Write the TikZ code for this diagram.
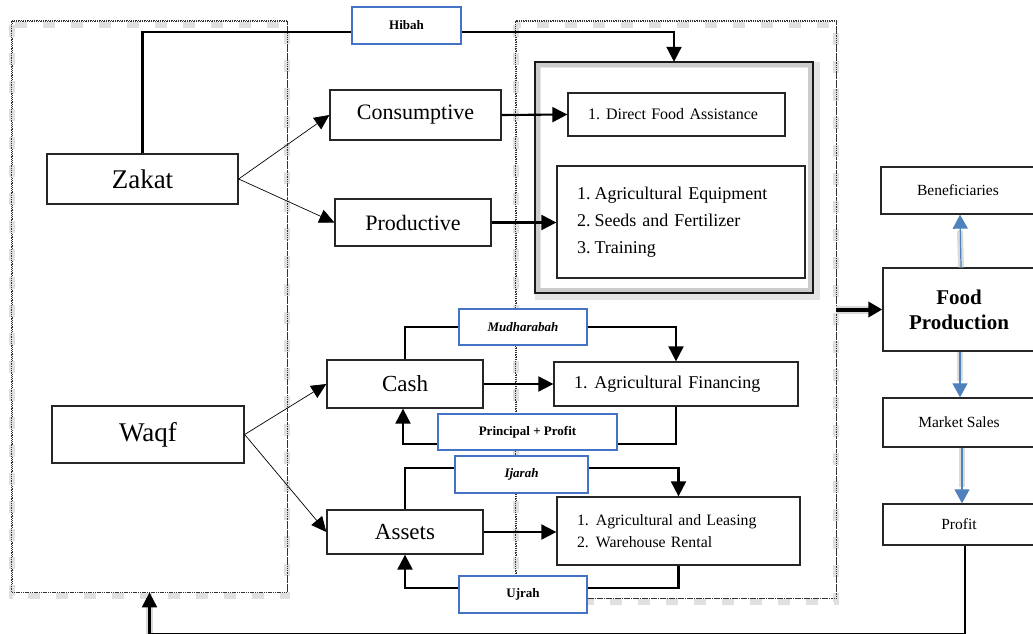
\documentclass[tikz,border=0pt]{standalone}
\usepackage{fontspec}
\setmainfont{Liberation Serif}
\usetikzlibrary{arrows.meta,calc}
\definecolor{wordblue}{RGB}{68,114,196}
\definecolor{arrowblue}{RGB}{79,129,189}
\begin{document}
\begin{tikzpicture}[x=1pt,y=-1pt,
  box/.style={draw=black!85, line width=1.3pt, fill=white, inner sep=0pt, align=center},
  listbox/.style={draw=black!85, line width=1.3pt, fill=white, inner xsep=20pt, inner ysep=0pt, align=left},
  tag/.style={draw=wordblue, line width=1.2pt, fill=white, inner sep=0pt, font=\fontsize{13}{15}\selectfont\bfseries},
  conn/.style={line width=2.1pt, -{Triangle[length=15pt,width=15pt]}},
  plainline/.style={line width=2.1pt},
  thinarr/.style={line width=0.7pt, -{Triangle[length=15pt,width=14pt]}},
  frame/.style={draw=black!80, densely dotted, line width=0.8pt, inner sep=0pt},
  glow/.style={draw=black!12, line width=6pt, dash pattern=on 12pt off 16pt},
  bluearr/.style={arrowblue, line width=1.2pt, -{Triangle[length=14pt,width=15pt]}},
  blueglow/.style={black!14, line width=6pt},
]
\useasboundingbox (0,0) rectangle (1033,634);
\clip (0,0) rectangle (1033,634);

% frames
\node[frame, minimum width=275pt, minimum height=571pt] (leftframe) at (149.5,306.5) {};
\node[frame, minimum width=320pt, minimum height=577pt] (rightframe) at (676,309.5) {};
\draw[glow] ([yshift=-4pt]leftframe.north west) rectangle ([yshift=-4pt]leftframe.south east);
\draw[glow] ([yshift=-4pt]rightframe.north west) rectangle ([yshift=-4pt]rightframe.south east);
\draw[frame] (leftframe.north west) rectangle (leftframe.south east);
\draw[frame] (rightframe.north west) rectangle (rightframe.south east);

% big framed box
\node[minimum width=278pt, minimum height=231pt, inner sep=0pt] (bigbox) at (674,177.5) {};
\draw[black!10, line width=6pt] ([shift={(3pt,-3pt)}]bigbox.north west) rectangle ([shift={(4pt,-4pt)}]bigbox.south east);
\draw[black!20, line width=4pt] ([shift={(3pt,-3pt)}]bigbox.north west) rectangle ([shift={(-3pt,3pt)}]bigbox.south east);
\draw[black!90, line width=1.5pt] (bigbox.north west) rectangle (bigbox.south east);

% left nodes
\node[box, minimum width=191pt, minimum height=50pt, font=\fontsize{27}{32}\selectfont] (zakat) at (142.5,179) {Zakat};
\node[box, minimum width=192pt, minimum height=57pt, font=\fontsize{27}{32}\selectfont] (waqf) at (148,434.5) {Waqf};

% middle nodes
\node[box, minimum width=171pt, minimum height=50pt, font=\fontsize{22}{26}\selectfont] (cons) at (415.5,115) {Consumptive};
\node[box, minimum width=156pt, minimum height=47pt, font=\fontsize{22}{26}\selectfont] (prod) at (413,222.5) {Productive};
\node[box, minimum width=156pt, minimum height=48pt, font=\fontsize{23}{27}\selectfont] (cash) at (405,384) {Cash};
\node[box, minimum width=156pt, minimum height=44pt, font=\fontsize{23}{27}\selectfont] (assets) at (405,532) {Assets};

% tags
\node[tag, minimum width=109pt, minimum height=37pt] (hibah) at (406.5,25.5) {Hibah};
\node[tag, minimum width=128pt, minimum height=36pt] (mudh) at (523,327) {\itshape Mudharabah};
\node[tag, minimum width=179pt, minimum height=36pt] (pp) at (527.5,432) {Principal + Profit};
\node[tag, minimum width=133pt, minimum height=37pt] (ijarah) at (521.5,474.5) {\itshape Ijarah};
\node[tag, minimum width=128pt, minimum height=37pt] (ujrah) at (523,594.5) {Ujrah};

% right-side list boxes
\node[listbox, text width=177pt, minimum height=43pt, font=\fontsize{16}{20}\selectfont] (dfa) at (676.5,114.5) {1.\hspace{6pt}Direct Food Assistance};
\node[listbox, text width=208pt, minimum height=112pt, font=\fontsize{18}{27}\selectfont] (plist) at (681,222) {1.\hspace{4pt}Agricultural Equipment\\2.\hspace{4pt}Seeds and Fertilizer\\3.\hspace{4pt}Training\\[-8pt]};
\node[listbox, text width=204pt, minimum height=44pt, font=\fontsize{18}{22}\selectfont] (af) at (676,384) {1.\hspace{7pt}Agricultural Financing};
\node[listbox, text width=203pt, minimum height=68pt, font=\fontsize{15.8}{22}\selectfont] (leasing) at (678.5,531) {1.\hspace{7pt}Agricultural and Leasing\\2.\hspace{7pt}Warehouse Rental};

% outcome column
\node[box, minimum width=154pt, minimum height=47pt, font=\fontsize{15.5}{18}\selectfont] (benef) at (958,190.5) {Beneficiaries};
\node[box, minimum width=152pt, minimum height=83pt, font=\fontsize{21}{25}\selectfont\bfseries] (food) at (959,309.5) {Food\\Production};
\node[box, minimum width=152pt, minimum height=49pt, font=\fontsize{15.5}{18}\selectfont] (market) at (959,422.5) {Market Sales};
\node[box, minimum width=152pt, minimum height=41pt, font=\fontsize{15.5}{18}\selectfont] (profit) at (959,524.5) {Profit};

% zakat flows
\draw[thinarr] (zakat.east) -- (cons.west);
\draw[thinarr] (zakat.east) -- (prod.west);
\draw[plainline] (zakat.north) |- ([yshift=-6.5pt]hibah.west);
\draw[conn] ([yshift=-6.5pt]hibah.east) -| (bigbox.north);
\draw[conn] (cons.east) -- (dfa.west);
\draw[conn] (prod.east) -- (prod.east -| plist.west);

% waqf flows
\draw[thinarr] (waqf.east) -- (cash.west);
\draw[thinarr] (waqf.east) -- (assets.west);
\draw[plainline] (cash.north) |- (mudh.west);
\draw[conn] (mudh.east) -| (af.north);
\draw[conn] (cash.east) -- (af.west);
\draw[plainline] (af.south) |- ([yshift=-12pt]pp.east);
\draw[conn] ([yshift=-12pt]pp.west) -| ([xshift=-2pt]cash.south);
\draw[plainline] (assets.north) |- ([yshift=6.5pt]ijarah.west);
\draw[conn] ([yshift=6.5pt]ijarah.east) -| (leasing.north);
\draw[conn] (assets.east) -- (assets.east -| leasing.west);
\draw[plainline] (leasing.south) |- ([yshift=6.5pt]ujrah.east);
\draw[conn] ([yshift=6.5pt]ujrah.west) -| (assets.south);

% to food production
\draw[black!15, line width=8pt] (rightframe.east |- food.west) -- ([xshift=-6pt]food.west);
\draw[line width=4pt, -{Triangle[length=14pt,width=15pt]}] (rightframe.east |- food.west) -- (food.west);

% blue arrows
\draw[blueglow] ([xshift=2pt]food.north) -- ([xshift=2pt,yshift=-16pt]benef.south);
\draw[bluearr] ([xshift=2pt]food.north) -- ([xshift=2pt]benef.south);
\draw[blueglow] ([xshift=1pt]food.south) -- ([xshift=1pt,yshift=16pt]market.north);
\draw[bluearr] ([xshift=1pt]food.south) -- ([xshift=1pt]market.north);
\draw[blueglow] ([xshift=3pt]market.south) -- ([xshift=3pt,yshift=16pt]profit.north);
\draw[bluearr] ([xshift=3pt]market.south) -- ([xshift=3pt]profit.north);

% return loop
\coordinate (loopR) at ($(profit.south)+(6,88)$);
\draw[black!15, line width=7pt] (loopR -| leftframe.south) -- ([yshift=-14pt]leftframe.south);
\draw[conn] ([xshift=6pt]profit.south) -- (loopR) -| (leftframe.south);
\end{tikzpicture}
\end{document}
